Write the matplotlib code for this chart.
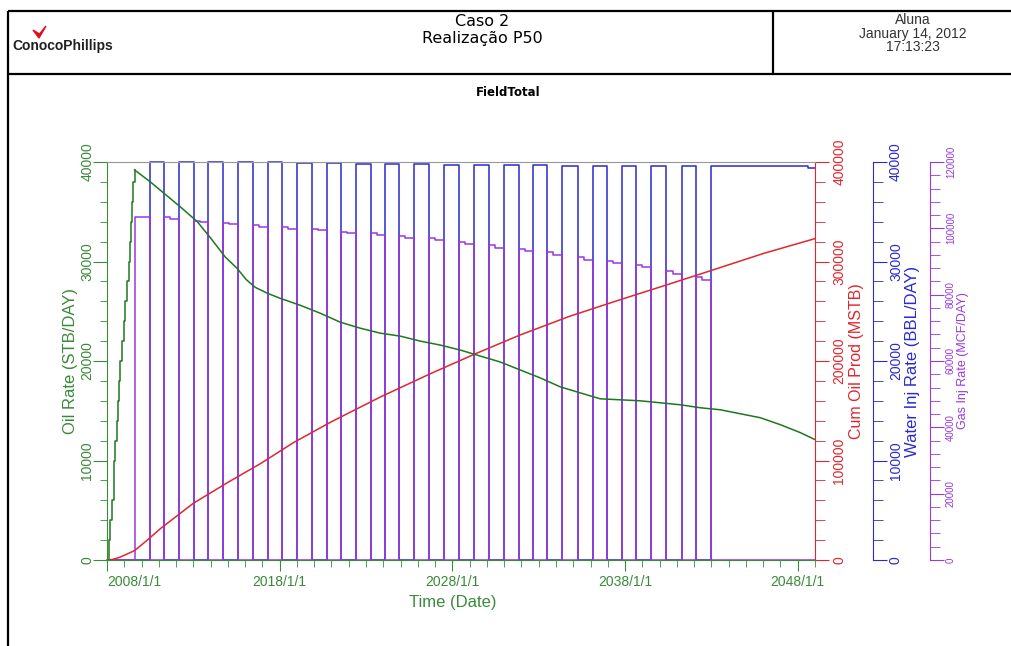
import matplotlib.pyplot as plt
from matplotlib.ticker import MultipleLocator

plt.rcParams['font.family'] = ['Liberation Sans', 'DejaVu Sans']

# ---- field total, Caso 2 / P50 ----
# oil rate build-up, monthly steps (STB/DAY)
ramp_years = [2008.00, 2008.09, 2008.19, 2008.29, 2008.38, 2008.42, 2008.48, 2008.58,
              2008.64, 2008.71, 2008.77, 2008.87, 2008.96, 2009.06, 2009.16, 2009.25,
              2009.31, 2009.39, 2009.45, 2009.51, 2009.60]
ramp_rate = [0, 2000, 4000, 6000, 8000, 10000, 12000, 14000,
             16000, 18000, 20000, 22000, 24000, 26000, 28000, 30000,
             32000, 34000, 36000, 38000, 39200]

# oil rate decline (STB/DAY)
oil_years = [2009.60, 2010.51, 2012.24, 2013.23, 2013.98, 2014.85, 2015.54, 2016.05,
             2016.59, 2017.30, 2018.03, 2019.19, 2020.35, 2021.51, 2022.66, 2023.82,
             2024.98, 2026.14, 2027.30, 2028.46, 2029.61, 2030.77, 2031.93, 2033.09,
             2034.25, 2035.40, 2036.56, 2037.72, 2038.88, 2040.04, 2041.20, 2042.36,
             2043.51, 2044.67, 2045.83, 2046.99, 2048.15, 2049.00]
oil_rate = [39200, 38000, 35500, 34000, 32400, 30450, 29300, 28200,
            27400, 26800, 26300, 25600, 24800, 23900, 23300, 22800,
            22500, 22000, 21600, 21100, 20500, 19900, 19100, 18300,
            17400, 16800, 16200, 16100, 16000, 15800, 15600, 15300,
            15100, 14700, 14300, 13600, 12800, 12100]

# cumulative oil (MSTB)
cum_years = [2008.00, 2008.30, 2008.70, 2009.10, 2009.60, 2010.30, 2011.09, 2013.00,
             2015.00, 2016.90, 2018.80, 2021.00, 2023.85, 2026.70, 2029.30, 2031.90,
             2034.80, 2037.70, 2040.50, 2043.00, 2046.00, 2049.00]
cum_oil = [0, 500, 2500, 5500, 9500, 19500, 31500, 57000,
           78000, 97000, 118000, 139000, 164000, 187000, 207000, 226000,
           245000, 261500, 277000, 291000, 308000, 323000]

# WAG cycle switch dates: gas on, water on, gas on, ...
switch_years = [2009.64, 2010.51, 2011.32, 2012.19, 2013.05, 2013.87, 2014.73, 2015.60,
                2016.47, 2017.34, 2018.15, 2019.02, 2019.89, 2020.76, 2021.57, 2022.44,
                2023.30, 2024.11, 2024.93, 2025.79, 2026.66, 2027.53, 2028.40, 2029.27,
                2030.14, 2031.01, 2031.88, 2032.69, 2033.50, 2034.37, 2035.30, 2036.17,
                2036.98, 2037.85, 2038.66, 2039.53, 2040.40, 2041.32, 2042.13, 2043.00]

# gas injection per gas cycle, start / end of cycle (MCF/DAY)
gas_start = [103500, 103300, 102300, 101700, 100900, 100300, 99700, 99000, 98500, 97700,
             97000, 95900, 95000, 93800, 92800, 91300, 90200, 88900, 87200, 85400]
gas_end = [103500, 102900, 101900, 101400, 100500, 99900, 99400, 98700, 98100, 97100,
           96400, 95400, 94200, 93100, 91900, 90500, 89500, 88200, 86200, 84400]

# water injection per water cycle (BBL/DAY)
water_rate = [40000, 40000, 40000, 40000, 39950, 39900, 39850, 39800, 39800, 39750,
              39700, 39700, 39650, 39650, 39600, 39600, 39600, 39550, 39550]
# continuous water injection after the last gas cycle
tail_years = [2043.00, 2048.62, 2049.00]
tail_rate = [39600, 39400]

x_major = [2008, 2018, 2028, 2038, 2048]
x_labels = ['2008/1/1', '2018/1/1', '2028/1/1', '2038/1/1', '2048/1/1']

GREEN = '#3a8a3a'
GREEN_LINE = '#1e781e'
RED = '#e0262e'
BLUE = '#2a2ad0'
PURPLE = '#9838e0'

# step series for the injectors
gx, gy = [2008.0], [0]
for i in range(len(gas_start)):
    t0, t1 = switch_years[2 * i], switch_years[2 * i + 1]
    tm = t0 + 0.4 * (t1 - t0)
    gx += [t0, t0, tm, tm, t1, t1]
    gy += [0, gas_start[i], gas_start[i], gas_end[i], gas_end[i], 0]
gx.append(2049.0)
gy.append(0)

wx, wy = [2008.0], [0]
for i in range(len(water_rate)):
    t0, t1 = switch_years[2 * i + 1], switch_years[2 * i + 2]
    wx += [t0, t0, t1, t1]
    wy += [0, water_rate[i], water_rate[i], 0]
wx += [tail_years[0], tail_years[0], tail_years[1], tail_years[1], tail_years[2]]
wy += [0, tail_rate[0], tail_rate[0], tail_rate[1], tail_rate[1]]

W, H = 1011, 646
fig = plt.figure(figsize=(W / 100, H / 100), dpi=100, facecolor='white')

# page frame and header
frame = fig.add_axes([0, 0, 1, 1], zorder=0)
frame.set_xlim(0, W)
frame.set_ylim(H, 0)
frame.axis('off')
for xs, ys in [([8, 8], [11, H]), ([8, W], [11, 11]), ([8, W], [74, 74]), ([773, 773], [11, 74])]:
    frame.plot(xs, ys, color='black', lw=1.6, solid_capstyle='butt')
frame.fill([33, 39, 46, 39.5], [30, 38, 26, 34], color='#e01020')
frame.text(12, 46, 'ConocoPhillips', ha='left', va='center', fontsize=10, fontweight='bold',
           color='#202020', family=['Liberation Sans Narrow', 'Liberation Sans'])
frame.text(482, 22, 'Caso 2', ha='center', va='center', fontsize=11.5, family='DejaVu Sans')
frame.text(482, 39, 'Realização P50', ha='center', va='center', fontsize=11.5, family='DejaVu Sans')
for yy, s in [(20, 'Aluna'), (34, 'January 14, 2012'), (47, '17:13:23')]:
    frame.text(913, yy, s, ha='center', va='center', fontsize=10, color='#333333',
               family=['Liberation Sans Narrow', 'Liberation Sans'])
frame.text(508, 93, 'FieldTotal', ha='center', va='center', fontsize=8.5,
           fontweight='bold', family='DejaVu Sans')

# plot axes
x0, x1, y0, y1 = 107, 815, 162, 560
ax = fig.add_axes([x0 / W, 1 - y1 / H, (x1 - x0) / W, (y1 - y0) / H])
ax_red = ax.twinx()
ax_wat = ax.twinx()
ax_gas = ax.twinx()

ax_wat.set_zorder(1)
ax_gas.set_zorder(2)
ax_red.set_zorder(3)
ax.set_zorder(4)
for a in (ax, ax_red, ax_wat, ax_gas):
    a.patch.set_visible(False)

ax_wat.plot(wx, wy, color=BLUE, lw=1.1, clip_on=False)
ax_gas.plot(gx, gy, color=PURPLE, lw=1.1)
ax_red.plot(cum_years, cum_oil, color=RED, lw=1.1)
ax.plot(ramp_years, ramp_rate, color=GREEN_LINE, lw=1.1, drawstyle='steps-post')
ax.plot(oil_years, oil_rate, color=GREEN_LINE, lw=1.1)

ax.set_xlim(2008.0, 2049.0)
ax.set_ylim(0, 40000)
ax_red.set_ylim(0, 400000)
ax_wat.set_ylim(0, 40000)
ax_gas.set_ylim(0, 120000)

# main axis: green left and bottom, grey top
ax.spines['left'].set_color(GREEN)
ax.spines['bottom'].set_color(GREEN)
ax.spines['top'].set_color('#999999')
ax.spines['right'].set_visible(False)

ax.set_xticks(x_major, x_labels)
ax.xaxis.set_minor_locator(MultipleLocator(1))
ax.tick_params(axis='x', which='major', length=8, color=GREEN, labelcolor=GREEN,
               labelsize=10, pad=3)
ax.tick_params(axis='x', which='minor', length=5, color=GREEN)
ax.get_xticklabels()[0].set_horizontalalignment('left')

ax.set_yticks([0, 10000, 20000, 30000, 40000],
              ['0', '10000', '20000', '30000', '40000'], rotation=90, va='center')
ax.yaxis.set_minor_locator(MultipleLocator(2000))
ax.tick_params(axis='y', which='major', length=10, color=GREEN, labelcolor=GREEN,
               labelsize=10, pad=-1)
ax.tick_params(axis='y', which='minor', length=5, color=GREEN)

ax.set_xlabel('Time (Date)', color=GREEN, fontsize=12, va='center')
ax.xaxis.set_label_coords((453 - x0) / (x1 - x0), -0.108)
ax.set_ylabel('Oil Rate (STB/DAY)', color=GREEN, fontsize=12, va='center')
ax.yaxis.set_label_coords((70 - x0) / (x1 - x0), 0.5)


def right_axis(a, pos_px, color, major, minor, labels, label, lab_px, size, lsize, pad):
    for side in ('left', 'top', 'bottom'):
        a.spines[side].set_visible(False)
    a.spines['right'].set_position(('axes', (pos_px - x0) / (x1 - x0)))
    a.spines['right'].set_color(color)
    a.set_yticks(major, labels, rotation=90, va='center')
    a.yaxis.set_minor_locator(MultipleLocator(minor))
    a.tick_params(axis='y', which='major', length=10, color=color, labelcolor=color,
                  labelsize=size, pad=pad)
    a.tick_params(axis='y', which='minor', length=7, color=color)
    a.set_ylabel(label, color=color, fontsize=lsize, va='center')
    a.yaxis.set_label_coords((lab_px - x0) / (x1 - x0), 0.5)


right_axis(ax_red, 815, RED, [0, 100000, 200000, 300000, 400000],
           20000, ['0', '100000', '200000', '300000', '400000'],
           'Cum Oil Prod (MSTB)', 857, 10, 11.5, 2.5)
right_axis(ax_wat, 873, BLUE, [0, 10000, 20000, 30000, 40000],
           2000, ['0', '10000', '20000', '30000', '40000'],
           'Water Inj Rate (BBL/DAY)', 913, 10, 12, 1.5)
right_axis(ax_gas, 930, PURPLE, [0, 20000, 40000, 60000, 80000, 100000, 120000],
           4000, ['0', '20000', '40000', '60000', '80000', '100000', '120000'],
           'Gas Inj Rate (MCF/DAY)', 963, 7, 9, 1.5)

fig.savefig('out.png', dpi=100)
